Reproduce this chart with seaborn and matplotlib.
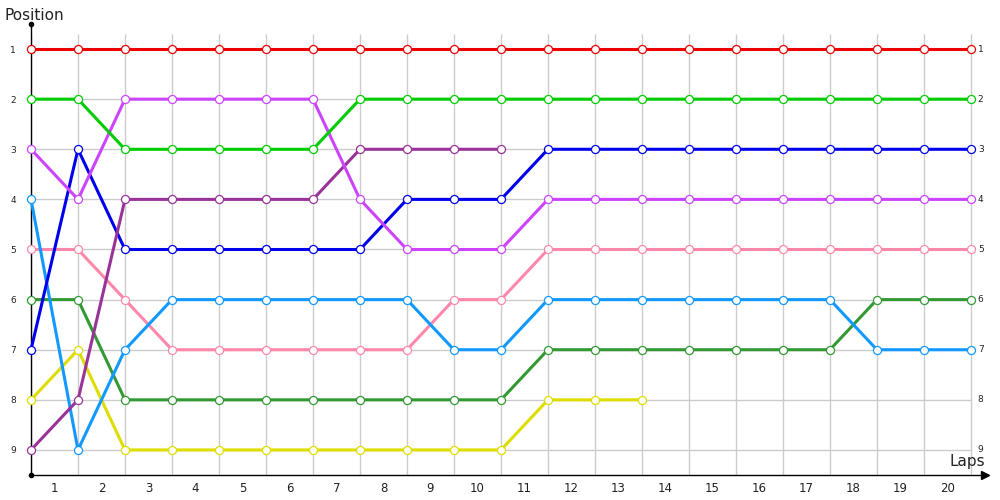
import matplotlib
matplotlib.use("Agg")
import matplotlib.pyplot as plt
import seaborn as sns
import numpy as np
import pandas as pd

sns.set_theme(style="white")
plt.rcParams['font.family'] = ['DejaVu Sans']

laps = list(range(0, 21))
lap_labels = [str(i) for i in range(1, 21)]
positions = list(range(1, 10))

red = [1] * 21
green = [2, 2, 3, 3, 3, 3, 3, 2, 2, 2, 2, 2, 2, 2, 2, 2, 2, 2, 2, 2, 2]
violet = [3, 4, 2, 2, 2, 2, 2, 4, 5, 5, 5, 4, 4, 4, 4, 4, 4, 4, 4, 4, 4]
purple = [9, 8, 4, 4, 4, 4, 4, 3, 3, 3, 3]
blue = [7, 3, 5, 5, 5, 5, 5, 5, 4, 4, 4, 3, 3, 3, 3, 3, 3, 3, 3, 3, 3]
lightblue = [4, 9, 7, 6, 6, 6, 6, 6, 6, 7, 7, 6, 6, 6, 6, 6, 6, 6, 7, 7, 7]
pink = [5, 5, 6, 7, 7, 7, 7, 7, 7, 6, 6, 5, 5, 5, 5, 5, 5, 5, 5, 5, 5]
darkgreen = [6, 6, 8, 8, 8, 8, 8, 8, 8, 8, 8, 7, 7, 7, 7, 7, 7, 7, 6, 6, 6]
yellow = [8, 7, 9, 9, 9, 9, 9, 9, 9, 9, 9, 8, 8, 8]

series = [
    (yellow, "#dddd00"),
    (darkgreen, "#339933"),
    (pink, "#ff88aa"),
    (lightblue, "#1199ff"),
    (blue, "#0000ee"),
    (purple, "#993399"),
    (violet, "#cc44ff"),
    (green, "#00cc00"),
    (red, "#ee0000"),
]

fig = plt.figure(figsize=(10, 5), dpi=100)
ax = fig.add_axes([0.031, 0.05, 0.954, 0.902])

# grid
ax.vlines(laps, 0.7, 9.5, color="#cccccc", lw=1, zorder=0)
ax.hlines(positions, 0, 20, color="#cccccc", lw=1, zorder=0)

for vals, col in series:
    sns.lineplot(x=laps[:len(vals)], y=vals, ax=ax, color=col, lw=2.2,
                 marker="o", markersize=5.8, markerfacecolor="white",
                 markeredgecolor=col, markeredgewidth=0.9, alpha=1,
                 clip_on=False, zorder=3)

ax.set_xlim(0, 20.3)
ax.set_ylim(9.5, 0.5)

ax.set_xticks(np.arange(20) + 0.5)
ax.set_xticklabels(lap_labels, fontsize=8.5, color="#222222")
ax.set_yticks(positions)
ax.set_yticklabels([str(p) for p in positions], fontsize=6.5, color="#222222")
ax.tick_params(axis="x", length=0, pad=5)
ax.tick_params(axis="y", length=0, pad=11)

for p in positions:
    ax.annotate(str(p), (20, p), xytext=(5, 0), textcoords="offset points",
                fontsize=6.5, va="center", ha="left", color="#222222")

for s in ["top", "right"]:
    ax.spines[s].set_visible(False)
for s in ["left", "bottom"]:
    ax.spines[s].set_color("black")
    ax.spines[s].set_linewidth(1)

ax.plot(0, 1, "o", color="black", markersize=3, transform=ax.transAxes, clip_on=False)
ax.plot(0, 0, "o", color="black", markersize=3, transform=ax.transAxes, clip_on=False)
ax.plot(1, 0, ">", color="black", markersize=6, transform=ax.transAxes, clip_on=False)

fig.text(0.004, 0.955, "Position", fontsize=11, ha="left", va="bottom", color="#222222")
fig.text(0.985, 0.062, "Laps", fontsize=11, ha="right", va="bottom", color="#222222")

ax.set_xlabel("")
ax.set_ylabel("")
fig.savefig("out.png", dpi=100)
